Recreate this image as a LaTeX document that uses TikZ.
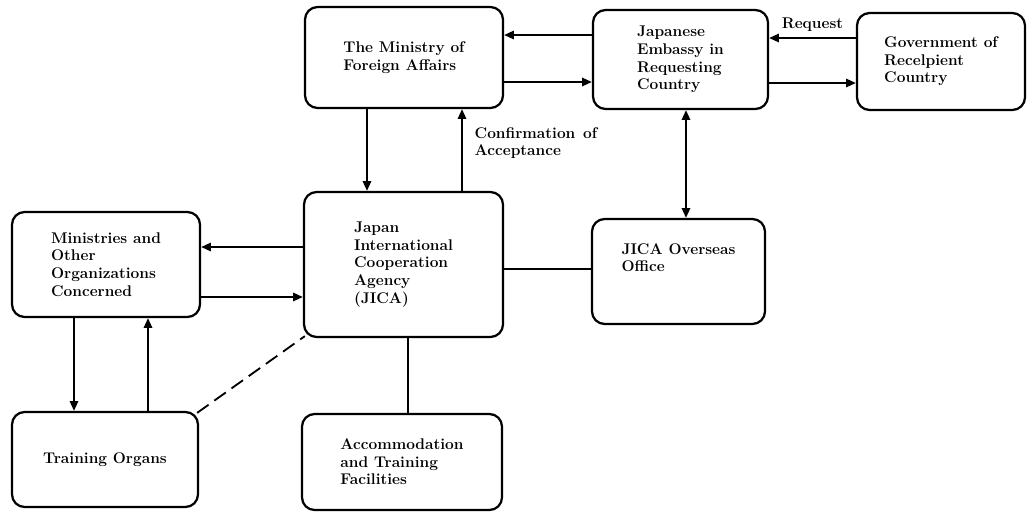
\documentclass[tikz,border=0pt]{standalone}
\usepackage{amsmath}
\usepackage{tikz}
\usetikzlibrary{arrows.meta}

\tikzset{
  box/.style={draw, line width=1.6pt, rounded corners=9pt, align=left,
    font=\bfseries\fontsize{11}{12.5}\selectfont},
  note/.style={align=left, inner sep=1pt, font=\bfseries\fontsize{11}{12.5}\selectfont},
  flow/.style={line width=1.3pt, >={Triangle[length=7pt,width=6pt]}}
}

\begin{document}
\begin{tikzpicture}[x=0.025cm, y=-0.025cm]
  \useasboundingbox (0,0) rectangle (1027,513);

  \node [box, minimum width=4.95cm, minimum height=2.525cm] (mofa) at (404,57.5) {The Ministry of\\Foreign Affairs};
  \node [box, minimum width=4.375cm, minimum height=2.475cm] (embassy) at (680.5,59.5) {Japanese\\Embassy in\\Requesting\\Country};
  \node [box, minimum width=4.2cm, minimum height=2.425cm] (govt) at (941,61.5) {Government of\\Recelpient\\Country};
  \node [box, minimum width=4.975cm, minimum height=3.625cm] (jica) at (403.5,264.5) {Japan\\International\\Cooperation\\Agency\\(JICA)};
  \node [box, minimum width=4.325cm, minimum height=2.625cm, text depth=20pt] (overseas) at (678.5,271.5) {JICA Overseas\\Office};
  \node [box, minimum width=4.7cm, minimum height=2.625cm] (ministries) at (106,264.5) {Ministries and\\Other\\Organizations\\Concerned};
  \node [box, minimum width=4.65cm, minimum height=2.375cm] (training) at (105,459.5) {Training Organs};
  \node [box, minimum width=5cm, minimum height=2.4cm] (accom) at (402,462) {Accommodation\\and Training\\Facilities};

  \node [note, anchor=west] (confirm) at (473,143) {Confirmation\enspace of\\Acceptance};

  \draw [flow, ->] (embassy.west |- 0,35) -- (mofa.east |- 0,35);
  \draw [flow, ->] (mofa.east |- 0,82) -- (embassy.west |- 0,82);
  \draw [flow, ->] (govt.west |- 0,38) -- node [note, above=3pt, pos=0.5] {Request} (embassy.east |- 0,38);
  \draw [flow, ->] (embassy.east |- 0,83) -- (govt.west |- 0,83);

  \draw [flow, ->] (mofa.south -| 367,0) -- (jica.north -| 367,0);
  \draw [flow, ->] (jica.north -| 462,0) -- (mofa.south -| 462,0);
  \draw [flow, <->] (embassy.south -| 686,0) -- (overseas.north -| 686,0);

  \draw [flow, ->] (jica.west |- 0,247) -- (ministries.east |- 0,247);
  \draw [flow, ->] (ministries.east |- 0,297) -- (jica.west |- 0,297);
  \draw [flow, ->] (ministries.south -| 74,0) -- (training.north -| 74,0);
  \draw [flow, ->] (training.north -| 148,0) -- (ministries.south -| 148,0);

  \draw [flow] (jica.east |- 0,269) -- (overseas.west |- 0,269);
  \draw [flow] (jica.south -| 408,0) -- (accom.north -| 408,0);
  \draw [flow, dash pattern=on 10pt off 5pt] ([shift={(-2,2)}]training.north east) -- ([shift={(2,-2)}]jica.south west);
\end{tikzpicture}
\end{document}
